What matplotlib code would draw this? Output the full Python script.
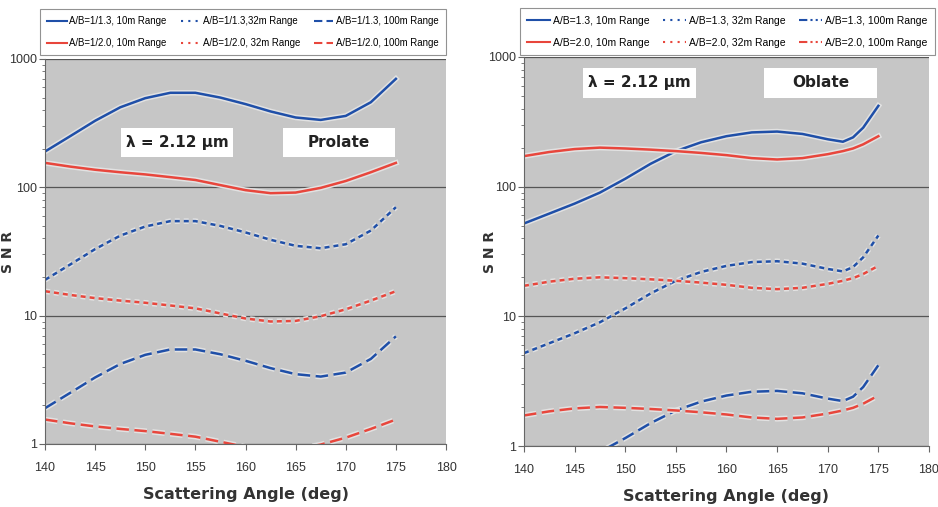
import matplotlib
matplotlib.use('Agg')
import matplotlib.pyplot as plt
import matplotlib.patheffects as pe
from matplotlib.lines import Line2D
from matplotlib.patches import Rectangle

# ---------------- datos ----------------
ang = [140, 142.5, 145, 147.5, 150, 152.5, 155, 157.5, 160, 162.5, 165, 167.5, 170, 172.5, 175]

# Prolato (A/B = 1/1.3 y 1/2.0)
pro_13_10m = [190, 250, 330, 420, 495, 545, 545, 500, 445, 390, 350, 335, 360, 460, 700]
pro_13_32m = [19, 25, 33, 42, 49.5, 54.5, 54.5, 50, 44.5, 39, 35, 33.5, 36, 46, 70]
pro_13_100m = [1.9, 2.5, 3.3, 4.2, 4.95, 5.45, 5.45, 5.0, 4.45, 3.9, 3.5, 3.35, 3.6, 4.6, 6.9]
pro_20_10m = [155, 145, 137, 131, 126, 120, 114, 104, 95, 90, 91, 99, 112, 131, 155]
pro_20_32m = [15.5, 14.5, 13.7, 13.1, 12.6, 12.0, 11.4, 10.4, 9.5, 9.0, 9.1, 9.9, 11.2, 13.1, 15.5]
pro_20_100m = [1.55, 1.45, 1.37, 1.31, 1.26, 1.2, 1.14, 1.04, 0.95, 0.9, 0.91, 0.99, 1.12, 1.31, 1.55]

# Oblato (A/B = 1.3 y 2.0)
ang_ob = [140, 142.5, 145, 147.5, 150, 152.5, 155, 157.5, 160, 162.5, 165, 167.5, 170, 171.5, 172.5, 173.5, 175]
obl_13_10m = [52, 62, 74, 90, 115, 150, 188, 220, 245, 262, 266, 255, 232, 222, 240, 285, 420]
obl_13_32m = [5.2, 6.2, 7.4, 9.0, 11.5, 15, 18.8, 22, 24.5, 26.2, 26.6, 25.5, 23.2, 22.2, 24, 28.5, 42]
obl_13_100m = [0.52, 0.62, 0.74, 0.9, 1.15, 1.5, 1.88, 2.2, 2.45, 2.62, 2.66, 2.55, 2.32, 2.22, 2.4, 2.85, 4.2]
obl_20_10m = [172, 185, 195, 200, 197, 193, 188, 182, 175, 166, 162, 166, 178, 188, 197, 212, 245]
obl_20_32m = [17.2, 18.5, 19.5, 20, 19.7, 19.3, 18.8, 18.2, 17.5, 16.6, 16.2, 16.6, 17.8, 18.8, 19.7, 21.2, 24.5]
obl_20_100m = [1.72, 1.85, 1.95, 2.0, 1.97, 1.93, 1.88, 1.82, 1.75, 1.66, 1.62, 1.66, 1.78, 1.88, 1.97, 2.12, 2.45]

xticks = [140, 145, 150, 155, 160, 165, 170, 175, 180]

AZUL = '#1f4fa8'
ROJO = '#e8463c'
FONDO = '#c6c6c6'
FUENTE = 'Liberation Sans'

halo = [pe.Stroke(linewidth=4, foreground='#e2e2e2'), pe.Normal()]

fig = plt.figure(figsize=(9.38, 5.07), dpi=100)
ax1 = fig.add_axes([0.048, 0.1243, 0.4275, 0.7594])
ax2 = fig.add_axes([0.5586, 0.1203, 0.4318, 0.7673])


def preparar(ax, xlab):
    ax.set_facecolor(FONDO)
    ax.set_yscale('log')
    ax.set_xlim(140, 180)
    ax.set_ylim(1, 1000)
    ax.set_xticks(xticks)
    ax.set_xticklabels([str(t) for t in xticks], family=FUENTE, fontsize=9, color='#333333')
    ax.set_yticks([1, 10, 100, 1000])
    ax.set_yticklabels(['1', '10', '100', '1000'], family=FUENTE, fontsize=9, color='#333333')
    ax.grid(True, which='major', axis='y', color='#555555', linewidth=0.9)
    ax.set_axisbelow(True)
    for s in ['top', 'right']:
        ax.spines[s].set_visible(False)
    ax.spines['left'].set_color('#666666')
    ax.spines['bottom'].set_color('#666666')
    ax.tick_params(axis='x', which='major', length=4, color='#666666', pad=9)
    ax.tick_params(axis='y', which='major', length=4, color='#666666', pad=2)
    ax.tick_params(axis='y', which='minor', length=2.5, color='#666666')
    ax.set_xlabel('Scattering Angle (deg)', fontsize=11.5, fontweight='bold',
                  color='#333333', labelpad=9)
    ax.set_ylabel('S N R', fontsize=10, fontweight='bold', color='#333333')
    ax.yaxis.set_label_coords(xlab, 0.5)


def caja(ax, x0, x1, y0, y1, texto):
    ax.add_patch(Rectangle((x0, y0), x1 - x0, y1 - y0, transform=ax.transAxes,
                           facecolor='white', edgecolor='none', zorder=4))
    ax.text((x0 + x1) / 2, (y0 + y1) / 2, texto, transform=ax.transAxes,
            ha='center', va='center', fontsize=11, fontweight='bold',
            color='#222222', zorder=5)


dot = (0, (2, 1.6))
dash = (0, (5, 2.2))

# ---------------- panel izquierdo: prolato ----------------
preparar(ax1, -0.075)
ax1.plot(ang, pro_13_10m, color=AZUL, lw=1.8, path_effects=halo)
ax1.plot(ang, pro_13_32m, color=AZUL, lw=1.8, ls=dot, path_effects=halo)
ax1.plot(ang, pro_13_100m, color=AZUL, lw=1.8, ls=dash, path_effects=halo)
ax1.plot(ang, pro_20_10m, color=ROJO, lw=1.8, path_effects=halo)
ax1.plot(ang, pro_20_32m, color=ROJO, lw=1.8, ls=dot, path_effects=halo)
ax1.plot(ang, pro_20_100m, color=ROJO, lw=1.8, ls=dash, path_effects=halo)
caja(ax1, 0.19, 0.469, 0.745, 0.821, 'λ = 2.12 µm')
caja(ax1, 0.594, 0.873, 0.745, 0.821, 'Prolate')

h1 = [Line2D([], [], color=AZUL, lw=1.5),
      Line2D([], [], color=ROJO, lw=1.5),
      Line2D([], [], color=AZUL, lw=1.5, ls=(0, (1, 2.5))),
      Line2D([], [], color=ROJO, lw=1.5, ls=(0, (1, 2.5))),
      Line2D([], [], color=AZUL, lw=1.5, ls=(0, (4, 2))),
      Line2D([], [], color=ROJO, lw=1.5, ls=(0, (4, 2)))]
l1 = ['A/B=1/1.3, 10m Range', 'A/B=1/2.0, 10m Range',
      'A/B=1/1.3,32m Range', 'A/B=1/2.0, 32m Range',
      'A/B=1/1.3, 100m Range', 'A/B=1/2.0, 100m Range']
leg = ax1.legend(h1, l1, ncol=3, loc='lower left', bbox_to_anchor=(-0.012, 1.01, 1.012, 0.135),
                 mode='expand', prop={'family': FUENTE, 'size': 6.9}, frameon=True,
                 fancybox=False, edgecolor='#777777', handlelength=2.0, handletextpad=0.3,
                 borderaxespad=0, columnspacing=0.3, labelspacing=1.2, borderpad=0.75)
leg.get_frame().set_linewidth(0.8)

# ---------------- panel derecho: oblato ----------------
preparar(ax2, -0.067)
ax2.plot(ang_ob, obl_13_10m, color=AZUL, lw=1.8, path_effects=halo)
ax2.plot(ang_ob, obl_13_32m, color=AZUL, lw=1.8, ls=dot, path_effects=halo)
ax2.plot(ang_ob, obl_13_100m, color=AZUL, lw=1.8, ls=dash, path_effects=halo)
ax2.plot(ang_ob, obl_20_10m, color=ROJO, lw=1.8, path_effects=halo)
ax2.plot(ang_ob, obl_20_32m, color=ROJO, lw=1.8, ls=dot, path_effects=halo)
ax2.plot(ang_ob, obl_20_100m, color=ROJO, lw=1.8, ls=dash, path_effects=halo)
caja(ax2, 0.146, 0.425, 0.895, 0.972, 'λ = 2.12 µm')
caja(ax2, 0.593, 0.872, 0.895, 0.972, 'Oblate')

ddot = (0, (4, 1.5, 1, 1.5, 1, 1.5))
h2 = [Line2D([], [], color=AZUL, lw=1.5),
      Line2D([], [], color=ROJO, lw=1.5),
      Line2D([], [], color=AZUL, lw=1.5, ls=(0, (1, 2.5))),
      Line2D([], [], color=ROJO, lw=1.5, ls=(0, (1, 2.5))),
      Line2D([], [], color=AZUL, lw=1.5, ls=ddot),
      Line2D([], [], color=ROJO, lw=1.5, ls=ddot)]
l2 = ['A/B=1.3, 10m Range', 'A/B=2.0, 10m Range',
      'A/B=1.3, 32m Range', 'A/B=2.0, 32m Range',
      'A/B=1.3, 100m Range', 'A/B=2.0, 100m Range']
leg2 = ax2.legend(h2, l2, ncol=3, loc='lower left', bbox_to_anchor=(-0.01, 1.005, 1.025, 0.13),
                  mode='expand', prop={'family': FUENTE, 'size': 7.5}, frameon=True,
                  fancybox=False, edgecolor='#777777', handlelength=2.2, handletextpad=0.3,
                  borderaxespad=0, columnspacing=0.3, labelspacing=1.15, borderpad=0.7)
leg2.get_frame().set_linewidth(0.8)

fig.savefig('out.png', dpi=100, facecolor='white')
